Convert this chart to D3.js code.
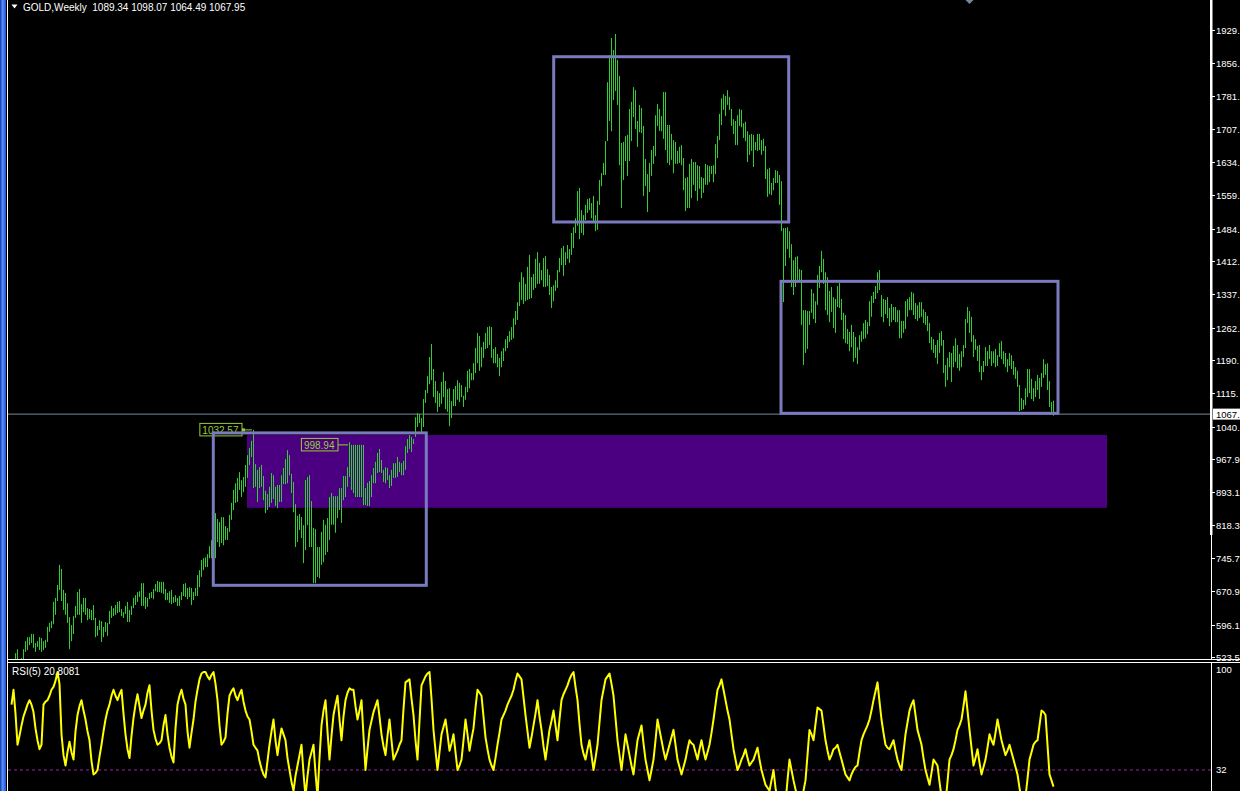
<!DOCTYPE html>
<html>
<head>
<meta charset="utf-8">
<script src="https://cdn.jsdelivr.net/npm/d3@7/dist/d3.min.js"></script>
<style>
  html, body { margin: 0; padding: 0; background: #000; }
  svg { display: block; }
  text { font-family: "Liberation Sans", Arial, sans-serif; }
</style>
</head>
<body>
<svg id="chart"></svg>
<script>
// Weekly bars, high / low per week
const highs = [
  512, 514, 532, 541, 512, 521, 541, 559, 568, 568,
  575, 575, 555, 559, 568, 566, 559, 562, 591, 600,
  604, 647, 656, 685, 730, 721, 674, 667, 644, 613,
  595, 615, 638, 669, 676, 642, 656, 656, 633, 631,
  629, 640, 611, 593, 606, 604, 591, 602, 600, 627,
  638, 633, 640, 647, 649, 631, 624, 638, 647, 629,
  638, 656, 662, 669, 671, 689, 689, 658, 656, 667,
  669, 676, 687, 694, 692, 692, 692, 676, 667, 671,
  674, 658, 662, 656, 660, 669, 687, 689, 678, 680,
  678, 669, 678, 707, 718, 741, 745, 747, 754, 772,
  785, 808, 846, 833, 826, 837, 837, 817, 813, 842,
  869, 898, 913, 925, 938, 920, 927, 954, 976, 992,
  1008, 1032.57, 956, 943, 949, 954, 929, 896, 889, 905,
  936, 931, 905, 909, 909, 931, 947, 967, 987, 976,
  934, 916, 866, 840, 844, 837, 819, 920, 927, 931,
  873, 813, 810, 770, 770, 804, 831, 820, 835, 882,
  891, 884, 884, 884, 902, 902, 929, 929, 949, 1005,
  998.94, 998.94, 998.94, 998.94, 998.94, 998.94, 998.94, 902, 914, 918,
  931, 947, 961, 981, 990, 965, 943, 949, 947, 931,
  943, 958, 958, 972, 961, 958, 963, 996, 1012, 1021,
  1017, 1012, 1061, 1070, 1068, 1059, 1102, 1122, 1153, 1196,
  1225, 1169, 1142, 1120, 1115, 1140, 1162, 1142, 1124, 1126,
  1097, 1124, 1131, 1144, 1138, 1133, 1109, 1129, 1165, 1169,
  1160, 1182, 1216, 1250, 1243, 1218, 1230, 1250, 1263, 1265,
  1263, 1214, 1218, 1203, 1194, 1209, 1216, 1236, 1243, 1254,
  1263, 1283, 1299, 1319, 1364, 1386, 1375, 1360, 1398, 1425,
  1375, 1382, 1416, 1431, 1407, 1391, 1418, 1422, 1393, 1380,
  1353, 1357, 1368, 1391, 1418, 1440, 1445, 1431, 1447, 1438,
  1474, 1487, 1507, 1568, 1575, 1525, 1514, 1537, 1550, 1552,
  1541, 1557, 1514, 1546, 1593, 1608, 1631, 1680, 1812, 1873,
  1911, 1884, 1920, 1862, 1826, 1676, 1678, 1691, 1694, 1752,
  1768, 1801, 1794, 1725, 1761, 1754, 1714, 1640, 1606, 1631,
  1660, 1669, 1738, 1763, 1752, 1736, 1790, 1790, 1716, 1716,
  1696, 1682, 1678, 1658, 1667, 1671, 1642, 1597, 1599, 1629,
  1640, 1633, 1633, 1626, 1624, 1599, 1597, 1629, 1626, 1624,
  1624, 1626, 1673, 1691, 1741, 1776, 1785, 1781, 1794, 1779,
  1752, 1729, 1725, 1738, 1752, 1750, 1720, 1723, 1702, 1694,
  1696, 1694, 1678, 1696, 1696, 1682, 1685, 1669, 1617, 1620,
  1586, 1597, 1615, 1613, 1604, 1590, 1485, 1485, 1487, 1478,
  1449, 1413, 1420, 1422, 1393, 1391, 1301, 1301, 1299, 1299,
  1348, 1339, 1321, 1380, 1400, 1434, 1416, 1386, 1375, 1344,
  1353, 1330, 1326, 1355, 1362, 1326, 1295, 1290, 1259, 1252,
  1268, 1252, 1241, 1218, 1245, 1254, 1272, 1279, 1274, 1321,
  1333, 1342, 1355, 1386, 1391, 1335, 1326, 1324, 1330, 1306,
  1315, 1308, 1308, 1301, 1301, 1277, 1277, 1321, 1326, 1330,
  1342, 1339, 1317, 1312, 1319, 1319, 1303, 1297, 1288, 1272,
  1241, 1236, 1223, 1234, 1250, 1254, 1234, 1178, 1194, 1207,
  1205, 1221, 1238, 1223, 1203, 1209, 1223, 1281, 1308, 1299,
  1286, 1245, 1236, 1221, 1223, 1176, 1187, 1218, 1209, 1223,
  1209, 1209, 1214, 1200, 1227, 1232, 1209, 1205, 1191, 1205,
  1200, 1187, 1173, 1165, 1133, 1104, 1100, 1126, 1169, 1169,
  1147, 1126, 1142, 1156, 1149, 1160, 1191, 1180, 1182, 1142,
  1095, 1098.07
];

const lows = [
  494, 498, 512, 512, 498, 508, 512, 535, 539, 550,
  555, 544, 535, 546, 539, 535, 539, 544, 557, 580,
  588, 597, 618, 649, 674, 649, 629, 618, 600, 541,
  559, 575, 611, 618, 618, 600, 624, 618, 606, 609,
  606, 606, 568, 571, 584, 557, 568, 580, 571, 597,
  611, 615, 618, 622, 624, 615, 611, 620, 602, 602,
  618, 633, 640, 647, 658, 638, 638, 631, 636, 653,
  656, 653, 671, 669, 669, 667, 665, 651, 651, 645,
  642, 645, 647, 638, 638, 651, 660, 658, 653, 658,
  640, 651, 660, 660, 680, 703, 718, 725, 725, 745,
  745, 752, 745, 781, 770, 779, 774, 786, 786, 804,
  831, 853, 869, 871, 898, 882, 893, 905, 925, 954,
  972, 902, 905, 871, 902, 905, 875, 846, 853, 860,
  869, 878, 862, 857, 871, 871, 911, 911, 913, 931,
  891, 848, 770, 781, 808, 790, 734, 763, 819, 770,
  770, 689, 689, 703, 700, 730, 736, 752, 759, 786,
  820, 820, 802, 835, 853, 824, 875, 882, 905, 927,
  898, 891, 882, 882, 882, 882, 864, 864, 862, 862,
  882, 913, 913, 936, 938, 936, 916, 913, 920, 902,
  907, 925, 925, 927, 938, 931, 931, 943, 981, 990,
  983, 1001, 1017, 1039, 1048, 1026, 1039, 1093, 1115, 1135,
  1144, 1106, 1093, 1073, 1084, 1091, 1106, 1079, 1073, 1041,
  1059, 1086, 1086, 1100, 1095, 1106, 1084, 1100, 1117, 1126,
  1144, 1144, 1160, 1182, 1165, 1173, 1194, 1214, 1216, 1223,
  1194, 1182, 1182, 1173, 1153, 1173, 1187, 1209, 1216, 1230,
  1234, 1238, 1268, 1279, 1310, 1324, 1315, 1321, 1324, 1326,
  1328, 1346, 1351, 1360, 1360, 1368, 1353, 1353, 1355, 1335,
  1306, 1321, 1344, 1351, 1386, 1402, 1378, 1402, 1416, 1407,
  1425, 1440, 1474, 1490, 1460, 1474, 1469, 1503, 1519, 1525,
  1507, 1501, 1478, 1481, 1537, 1579, 1604, 1604, 1680, 1725,
  1702, 1772, 1792, 1761, 1626, 1530, 1593, 1635, 1602, 1635,
  1680, 1734, 1707, 1667, 1700, 1698, 1557, 1579, 1521, 1566,
  1602, 1629, 1646, 1714, 1703, 1702, 1685, 1660, 1631, 1626,
  1638, 1608, 1629, 1629, 1631, 1626, 1570, 1523, 1530, 1530,
  1552, 1582, 1568, 1546, 1573, 1552, 1564, 1582, 1582, 1588,
  1606, 1588, 1606, 1642, 1682, 1716, 1750, 1736, 1761, 1750,
  1714, 1696, 1671, 1671, 1714, 1711, 1687, 1680, 1633, 1649,
  1658, 1622, 1660, 1658, 1660, 1649, 1658, 1595, 1555, 1561,
  1559, 1570, 1586, 1586, 1537, 1478, 1319, 1400, 1438, 1418,
  1353, 1335, 1353, 1364, 1368, 1268, 1178, 1205, 1214, 1268,
  1295, 1281, 1272, 1313, 1351, 1386, 1360, 1301, 1290, 1274,
  1297, 1261, 1250, 1308, 1306, 1279, 1236, 1227, 1225, 1209,
  1218, 1185, 1194, 1180, 1212, 1230, 1236, 1238, 1247, 1265,
  1286, 1317, 1326, 1339, 1346, 1286, 1274, 1292, 1283, 1265,
  1274, 1279, 1274, 1274, 1238, 1238, 1250, 1259, 1286, 1301,
  1301, 1290, 1281, 1277, 1283, 1286, 1272, 1268, 1254, 1227,
  1212, 1205, 1194, 1180, 1205, 1221, 1160, 1129, 1144, 1173,
  1140, 1173, 1185, 1171, 1165, 1173, 1196, 1216, 1272, 1250,
  1230, 1196, 1212, 1187, 1162, 1144, 1162, 1176, 1176, 1191,
  1176, 1182, 1173, 1176, 1196, 1191, 1180, 1173, 1162, 1176,
  1169, 1156, 1147, 1129, 1075, 1077, 1079, 1088, 1106, 1115,
  1102, 1097, 1106, 1122, 1102, 1129, 1149, 1156, 1122, 1084,
  1073, 1064.49
];

// RSI(5), one value per week
const rsiValues = [
  76, 86, 70, 49, 55, 62, 68, 72, 76, 79,
  76, 71, 60, 52, 46, 49, 76, 78, 79, 82,
  86, 88, 92, 98, 90, 56, 42, 35, 44, 51,
  44, 39, 58, 69, 75, 79, 72, 66, 58, 52,
  38, 29, 30, 32, 41, 49, 58, 66, 72, 76,
  82, 86, 82, 79, 83, 86, 70, 56, 46, 40,
  55, 67, 76, 83, 75, 67, 72, 76, 84, 89,
  72, 59, 53, 49, 50, 52, 62, 69, 56, 47,
  41, 37, 60, 76, 82, 86, 80, 76, 58, 47,
  57, 66, 78, 86, 93, 97, 98, 98, 95, 93,
  96, 98, 90, 79, 62, 49, 51, 54, 70, 82,
  85, 87, 82, 79, 83, 86, 78, 72, 68, 66,
  58, 49, 47, 45, 38, 33, 29, 27, 38, 49,
  58, 66, 52, 42, 52, 60, 56, 52, 40, 32,
  24, 18, 28, 35, 42, 49, 30, 14, 28, 39,
  44, 49, 30, 14, 40, 62, 72, 79, 58, 39,
  55, 69, 76, 82, 66, 52, 68, 79, 84, 87,
  86, 86, 75, 66, 72, 79, 55, 32, 46, 59,
  65, 71, 75, 79, 68, 56, 48, 42, 55, 66,
  52, 39, 42, 45, 49, 52, 73, 91, 92, 93,
  80, 69, 52, 39, 65, 89, 92, 95, 97, 98,
  80, 59, 45, 32, 44, 56, 61, 66, 56, 45,
  50, 56, 44, 32, 35, 39, 52, 66, 56, 45,
  53, 60, 74, 86, 84, 82, 68, 54, 46, 39,
  35, 32, 40, 49, 57, 66, 69, 72, 76, 79,
  82, 86, 92, 97, 95, 93, 81, 69, 58, 47,
  54, 62, 70, 79, 68, 59, 48, 39, 49, 59,
  65, 72, 62, 52, 66, 79, 83, 86, 89, 93,
  96, 98, 88, 79, 63, 49, 43, 39, 46, 52,
  42, 32, 40, 49, 64, 79, 86, 93, 95, 97,
  90, 82, 67, 52, 42, 32, 44, 56, 49, 42,
  35, 29, 41, 52, 57, 62, 50, 39, 32, 25,
  32, 39, 52, 66, 59, 52, 45, 39, 44, 49,
  54, 59, 49, 39, 34, 29, 34, 39, 46, 52,
  50, 49, 44, 39, 46, 52, 45, 39, 44, 49,
  57, 66, 76, 86, 89, 93, 86, 79, 72, 66,
  56, 46, 39, 32, 35, 39, 42, 46, 40, 35,
  37, 39, 43, 47, 39, 32, 27, 22, 20, 18,
  25, 32, 20, 12, 10, 8, 9, 10, 25, 39,
  32, 25, 19, 14, 13, 12, 18, 25, 42, 59,
  56, 52, 63, 74, 73, 72, 62, 52, 45, 39,
  42, 46, 47, 49, 44, 39, 34, 29, 27, 25,
  29, 32, 34, 35, 44, 52, 56, 59, 62, 66,
  72, 79, 85, 91, 78, 66, 57, 49, 47, 46,
  49, 52, 45, 39, 35, 32, 44, 56, 64, 72,
  76, 79, 69, 59, 54, 49, 40, 32, 27, 22,
  30, 39, 37, 35, 24, 14, 12, 10, 24, 39,
  42, 46, 52, 59, 62, 66, 75, 85, 72, 59,
  47, 35, 40, 46, 37, 29, 34, 39, 47, 56,
  52, 49, 57, 66, 59, 52, 47, 42, 45, 49,
  44, 39, 34, 29, 20, 12, 13, 14, 26, 39,
  44, 49, 51, 52, 62, 72, 71, 69, 49, 29,
  25, 20.8081
];

const priceTicks = [1929, 1856, 1781, 1707, 1634, 1559, 1484, 1412, 1337, 1262, 1190, 1115,
  1040, 967.9, 893.1, 818.3, 745.7, 670.9, 596.1, 523.5];
const priceTickLabels = ["1929.", "1856.", "1781.", "1707.", "1634.", "1559.", "1484.", "1412.",
  "1337.", "1262.", "1190.", "1115.", "1040.", "967.9", "893.1", "818.3", "745.7", "670.9", "596.1", "523.5"];
const rsiTicks = [100, 32];
const rsiLevel = 32;

const symbol = "GOLD,Weekly";
const lastOHLC = [1089.34, 1098.07, 1064.49, 1067.95];
const lastClose = 1067.95;
const rsiName = "RSI(5)";
const rsiLast = "20.8081";

// drawn objects: bar index range and price range
const boxFrom = [100.9, 271.1, 384.75];
const boxTo = [207.4, 388.6, 523.25];
const boxTop = [1025.8, 1869.1, 1365.6];
const boxBottom = [684.2, 1498.6, 1069.8];
const zoneFrom = 117.75, zoneTo = 547.75, zoneTop = 1021, zoneBottom = 858;
const labelBars = [121, 169];
const labelPrices = [1032.57, 998.94];

const W = 1240, H = 791;
const svg = d3.select("#chart").attr("width", W).attr("height", H);
svg.append("rect").attr("width", W).attr("height", H).attr("fill", "#000");

const xScale = d3.scaleLinear().domain([0, highs.length - 1]).range([11.5, 1053.5]);
const yScale = d3.scaleLinear().domain([523.5, 1929]).range([657, 30]);
const rsiScale = d3.scaleLinear().domain([0, 100]).range([817.5, 669]);

const defs = svg.append("defs");
defs.append("clipPath").attr("id", "mainClip")
  .append("rect").attr("x", 8).attr("y", 0).attr("width", 1202).attr("height", 659);
defs.append("clipPath").attr("id", "rsiClip")
  .append("rect").attr("x", 8).attr("y", 663).attr("width", 1203).attr("height", 128);

// left window edge
const grad = defs.append("linearGradient").attr("id", "edge");
grad.append("stop").attr("offset", "0%").attr("stop-color", "#1238b0");
grad.append("stop").attr("offset", "45%").attr("stop-color", "#5a93f5");
grad.append("stop").attr("offset", "100%").attr("stop-color", "#1c4fd6");
svg.append("rect").attr("x", 0).attr("y", 0).attr("width", 6).attr("height", H).attr("fill", "url(#edge)");
svg.append("line").attr("x1", 7.5).attr("x2", 7.5).attr("y1", 0).attr("y2", H)
  .attr("stroke", "#fff").attr("stroke-width", 1);

const main = svg.append("g").attr("clip-path", "url(#mainClip)");

// purple zone
main.append("rect")
  .attr("x", xScale(zoneFrom)).attr("width", xScale(zoneTo) - xScale(zoneFrom))
  .attr("y", yScale(zoneTop)).attr("height", yScale(zoneBottom) - yScale(zoneTop))
  .attr("fill", "#4b0082");

// last price line
main.append("line")
  .attr("x1", 8).attr("x2", 1211)
  .attr("y1", yScale(lastClose)).attr("y2", yScale(lastClose))
  .attr("stroke", "#778899").attr("stroke-width", 1);

// bars
main.selectAll("line.bar")
  .data(highs)
  .join("line")
    .attr("class", "bar")
    .attr("x1", (d, i) => xScale(i)).attr("x2", (d, i) => xScale(i))
    .attr("y1", d => yScale(d)).attr("y2", (d, i) => yScale(lows[i]))
    .attr("stroke", "#32cd32").attr("stroke-width", 1);

// price labels
labelPrices.forEach((p, k) => {
  const xr = xScale(labelBars[k]) - 12;
  const y = yScale(p);
  const t = main.append("text")
    .attr("y", y + 4).attr("font-size", 10).attr("fill", "#9acd32")
    .text(p.toFixed(2));
  const tw = t.node().getComputedTextLength();
  t.attr("x", xr - 3 - tw);
  main.append("rect")
    .attr("x", xr - tw - 6 + 0.5).attr("y", y - 6.5)
    .attr("width", tw + 6).attr("height", 12.5)
    .attr("fill", "none").attr("stroke", "#9acd32").attr("stroke-width", 1);
  main.append("line")
    .attr("x1", xr + 0.5).attr("x2", xScale(labelBars[k]) - 1.5)
    .attr("y1", y).attr("y2", y)
    .attr("stroke", "#9acd32").attr("stroke-width", 1);
  if (k === 0) {
    main.append("rect").attr("x", xr + 0.5).attr("y", y - 1.5).attr("width", 3).attr("height", 3)
      .attr("fill", "#9acd32");
  }
});

// box outlines
main.selectAll("rect.box")
  .data(boxFrom)
  .join("rect")
    .attr("class", "box")
    .attr("x", (d) => xScale(d))
    .attr("width", (d, i) => xScale(boxTo[i]) - xScale(d))
    .attr("y", (d, i) => yScale(boxTop[i]))
    .attr("height", (d, i) => yScale(boxBottom[i]) - yScale(boxTop[i]))
    .attr("fill", "none").attr("stroke", "#7a7abf").attr("stroke-width", 3);

// header
svg.append("path").attr("d", "M11.5,4.5 L17.5,4.5 L14.5,8.5 Z").attr("fill", "#fff");
svg.append("text").attr("x", 23).attr("y", 11).attr("font-size", 10).attr("fill", "#fff")
  .attr("xml:space", "preserve")
  .text(`${symbol}  ${lastOHLC.map(v => v.toFixed(2)).join(" ")}`);
svg.append("path").attr("d", "M965.5,0 L973.5,0 L969.5,4 Z").attr("fill", "#778899");

// price axis
svg.append("rect").attr("x", 1210).attr("y", 0).attr("width", 2.5).attr("height", 535).attr("fill", "#fff");
svg.append("line").attr("x1", 1211.5).attr("x2", 1211.5).attr("y1", 535).attr("y2", 660)
  .attr("stroke", "#fff");
const axisG = svg.append("g");
priceTicks.forEach((v, i) => {
  const y = Math.round(yScale(v)) + 0.5;
  axisG.append("line").attr("x1", 1212).attr("x2", 1215).attr("y1", y).attr("y2", y).attr("stroke", "#fff");
  axisG.append("text").attr("x", 1216).attr("y", y + 3.5).attr("font-size", 9.5).attr("fill", "#fff")
    .text(priceTickLabels[i]);
});
// current price tag
const cy = yScale(lastClose);
svg.append("rect").attr("x", 1213).attr("y", cy - 5.5).attr("width", 27).attr("height", 11).attr("fill", "#fff");
svg.append("text").attr("x", 1216).attr("y", cy + 3.5).attr("font-size", 9.5).attr("fill", "#000")
  .text(Math.floor(lastClose) + ".");

// panel separator
svg.append("line").attr("x1", 8).attr("x2", W).attr("y1", 659.5).attr("y2", 659.5).attr("stroke", "#fff");
svg.append("line").attr("x1", 8).attr("x2", W).attr("y1", 662.5).attr("y2", 662.5).attr("stroke", "#fff");

// RSI panel
const rsiG = svg.append("g").attr("clip-path", "url(#rsiClip)");
rsiG.append("line").attr("x1", 8).attr("x2", 1211)
  .attr("y1", rsiScale(rsiLevel)).attr("y2", rsiScale(rsiLevel))
  .attr("stroke", "#a020a0").attr("stroke-dasharray", "3,3");
rsiG.append("path")
  .datum(rsiValues)
  .attr("d", d3.line().x((d, i) => xScale(i)).y(d => rsiScale(d)))
  .attr("fill", "none").attr("stroke", "#ffff00").attr("stroke-width", 2)
  .attr("stroke-linejoin", "round");
svg.append("line").attr("x1", 1211.5).attr("x2", 1211.5).attr("y1", 663).attr("y2", H).attr("stroke", "#fff");
rsiTicks.forEach(v => {
  svg.append("text").attr("x", 1216).attr("y", rsiScale(v) + 3.5).attr("font-size", 9.5).attr("fill", "#fff")
    .text(v);
});
svg.append("text").attr("x", 12).attr("y", 675).attr("font-size", 10).attr("fill", "#fff")
  .attr("xml:space", "preserve")
  .text(`${rsiName} ${rsiLast}`);
</script>
</body>
</html>
